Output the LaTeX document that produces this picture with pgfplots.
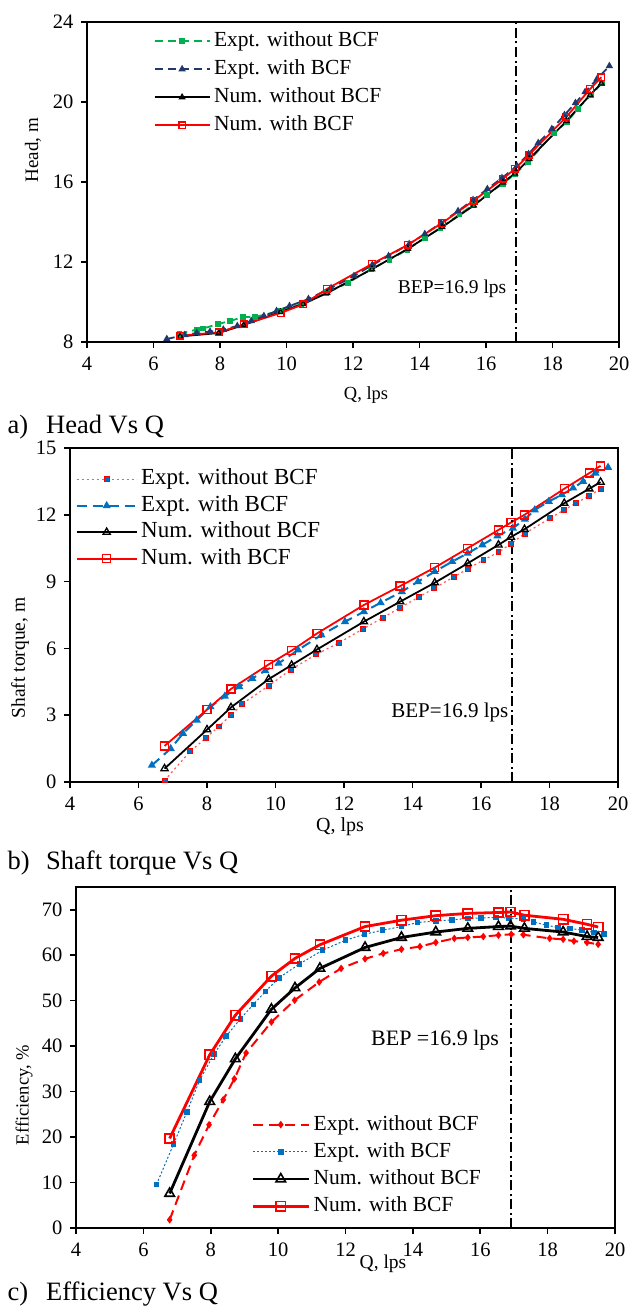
\documentclass[border=0pt]{standalone}
\usepackage{fontspec}
\setmainfont{Liberation Serif}
\usepackage{pgfplots}
\pgfplotsset{compat=1.18}

\definecolor{xgreen}{RGB}{0,176,80}
\definecolor{xnavy}{RGB}{32,56,110}
\definecolor{xblue}{RGB}{0,112,192}
\definecolor{xred}{RGB}{255,0,0}
\definecolor{xpink}{RGB}{255,90,90}

\newcommand\fs[1]{\fontsize{#1}{#1}\selectfont}

\pgfplotsset{
  base/.style={
    scale only axis,
    anchor=south west,
    xmin=4, xmax=20, xtick={4,6,...,20},
    axis line style={line width=2.6pt},
    tick align=outside,
    major tick length=6pt,
    tick style={line width=1.6pt, black},
    tick pos=left,
    ticklabel style={font=\fs{20.5}},
    xticklabel shift=5pt,
    yticklabel shift=4pt,
    /pgf/number format/assume math mode=true,
    legend cell align=left,
    legend style={draw=none, fill=none, inner sep=0pt, column sep=2pt,
      nodes={inner sep=1.5pt, text height=15pt, text depth=4pt}},
  },
  leglen/.style={legend image code/.code={
      \draw[mark repeat=2,mark phase=2,##1] plot coordinates {(0pt,0pt) (#1/2,0pt) (#1,0pt)};}},
  bep/.style={black, line width=2pt, dash pattern=on 10pt off 3.5pt on 2pt off 3.5pt, forget plot},
}

\begin{document}
\begin{tikzpicture}[x=1pt,y=1pt]
\useasboundingbox (0,0) rectangle (630,-1306);

% ---------------- Panel a ----------------
\begin{axis}[base, at={(87pt,-342pt)}, width=532pt, height=320pt,
  axis line style={line width=2.2pt},
  ymin=8, ymax=24, ytick={8,12,...,24},
  leglen=55pt,
  legend style={font=\fs{21.5}, row sep=6pt, at={(0.125,0.975)}, anchor=north west}]
\addplot[xgreen, line width=1.8pt, dash pattern=on 8pt off 5pt,
  mark=square*, mark size=2pt, mark options={solid}] coordinates {
(6.78,8.42) (7.30,8.62) (7.50,8.68) (7.95,8.90) (8.30,9.05) (8.70,9.25) (9.05,9.25)
(9.80,9.55) (10.45,9.90) (11.20,10.45) (11.85,10.96) (12.55,11.65) (13.10,12.12)
(13.64,12.62) (14.17,13.22) (14.63,13.70) (15.20,14.38) (15.61,14.85) (16.03,15.37)
(16.51,15.92) (16.87,16.40) (17.27,17.00) (18.05,18.47) (18.43,19.00) (18.76,19.66)
(19.16,20.35) (19.49,20.95)};
\addlegendentry{Expt. without BCF}
\addplot[xnavy, line width=1.8pt, dash pattern=on 8pt off 5pt,
  mark=triangle*, mark size=2.6pt, mark options={solid}] coordinates {
(6.40,8.15) (6.94,8.35) (7.30,8.45) (7.70,8.52) (8.10,8.62) (8.52,8.80) (8.94,9.05)
(9.32,9.30) (9.70,9.55) (10.09,9.80) (10.66,10.15) (11.34,10.70) (12.03,11.30)
(12.58,11.85) (13.07,12.30) (13.69,12.90) (14.16,13.40) (14.65,13.95) (15.16,14.55)
(15.61,15.10) (16.04,15.65) (16.48,16.20) (16.93,16.80) (17.28,17.40) (17.57,17.95)
(17.98,18.65) (18.36,19.35) (18.69,19.95) (18.98,20.50) (19.34,21.15) (19.71,21.80)};
\addlegendentry{Expt. with BCF}
\addplot[black, line width=1.8pt, mark=triangle, mark size=3pt,
  mark options={fill=white, line width=1.2pt}] coordinates {
(6.80,8.28) (7.96,8.45) (8.71,8.85) (9.82,9.50) (10.50,9.90) (11.22,10.45)
(12.57,11.64) (13.65,12.66) (14.68,13.75) (15.63,14.82) (16.51,15.98) (16.87,16.42)
(17.30,17.15) (18.42,19.05) (19.13,20.35) (19.47,20.93)};
\addlegendentry{Num. without BCF}
\addplot[xred, line width=1.8pt, mark=square, mark size=3.3pt,
  mark options={line width=1.4pt}] coordinates {
(6.80,8.32) (7.96,8.48) (8.71,8.88) (9.82,9.45) (10.50,9.88) (11.22,10.66)
(12.57,11.90) (13.65,12.86) (14.68,13.95) (15.63,15.07) (16.51,16.16) (16.87,16.66)
(17.30,17.37) (18.42,19.26) (19.13,20.65) (19.47,21.24)};
\addlegendentry{Num. with BCF}
\addplot[bep] coordinates {(16.9,8) (16.9,24)};
\node[font=\fs{19.5}] at (axis cs:14.98,10.65) {BEP=16.9 lps};
\end{axis}
\node[rotate=90, font=\fs{19}] at (33,-150) {Head, m};
\node[font=\fs{18.5}] at (366,-395) {Q, lps};
\node[font=\fs{26.5}, anchor=base west, inner sep=0pt] at (7.5,-433) {a)};
\node[font=\fs{26.5}, anchor=base west, inner sep=0pt] at (46,-433) {Head Vs Q};

% ---------------- Panel b ----------------
\begin{axis}[base, at={(70pt,-782pt)}, width=548pt, height=334pt,
  ymin=0, ymax=15, ytick={0,3,...,15},
  leglen=60pt,
  legend style={font=\fs{23}, row sep=4.5pt, at={(0.01,0.94)}, anchor=north west}]
\addplot[xpink, line width=1.2pt, dash pattern=on 2pt off 3pt,
  mark=square*, mark size=2.4pt, mark options={solid, fill=xblue, draw=xred, line width=0.8pt}] coordinates {
(6.76,0.07) (7.51,1.38) (7.97,1.98) (8.35,2.50) (8.70,3.00) (9.03,3.51) (9.80,4.32)
(10.45,5.05) (11.19,5.73) (11.85,6.25) (12.55,6.87) (13.13,7.38) (13.64,7.83)
(14.18,8.30) (14.63,8.70) (15.22,9.22) (15.61,9.57) (16.07,9.97) (16.51,10.32)
(16.87,10.70) (17.27,11.15) (18.02,11.85) (18.43,12.22) (18.77,12.52) (19.16,12.85)
(19.49,13.17)};
\addlegendentry{Expt. without BCF}
\addplot[xblue, line width=2pt, dash pattern=on 10pt off 6pt,
  mark=triangle*, mark size=2.8pt, mark options={solid}] coordinates {
(6.39,0.75) (6.94,1.50) (7.30,2.18) (7.70,2.78) (8.10,3.38) (8.52,3.85) (8.94,4.28)
(9.32,4.65) (9.70,5.00) (10.09,5.33) (10.66,5.93) (11.34,6.60) (12.03,7.20)
(12.58,7.65) (13.07,8.05) (13.69,8.55) (14.16,9.00) (14.65,9.45) (15.16,9.90)
(15.61,10.27) (16.04,10.65) (16.48,11.05) (16.93,11.40) (17.28,11.80) (17.57,12.22)
(17.98,12.60) (18.36,12.90) (18.69,13.20) (18.98,13.50) (19.34,13.87) (19.71,14.13)};
\addlegendentry{Expt. with BCF}
\addplot[black, line width=1.8pt, mark=triangle, mark size=4.2pt,
  mark options={fill=white, line width=1.3pt}] coordinates {
(6.76,0.60) (8.00,2.35) (8.70,3.35) (9.80,4.62) (10.47,5.25) (11.21,5.95)
(12.58,7.20) (13.64,8.10) (14.65,8.95) (15.61,9.82) (16.51,10.65) (16.87,11.00)
(17.27,11.35) (18.43,12.52) (19.16,13.17) (19.49,13.47)};
\addlegendentry{Num. without BCF}
\addplot[xred, line width=1.8pt, mark=square, mark size=4pt,
  mark options={line width=1.4pt}] coordinates {
(6.76,1.62) (8.00,3.25) (8.70,4.18) (9.80,5.28) (10.47,5.90) (11.21,6.67)
(12.58,7.95) (13.64,8.80) (14.65,9.63) (15.61,10.50) (16.51,11.32) (16.87,11.65)
(17.27,12.00) (18.43,13.17) (19.16,13.87) (19.49,14.20)};
\addlegendentry{Num. with BCF}
\addplot[bep] coordinates {(16.9,0) (16.9,15)};
\node[font=\fs{21}] at (axis cs:15.09,3.14) {BEP=16.9 lps};
\end{axis}
\node[rotate=90, font=\fs{19.5}] at (20,-658) {Shaft torque, m};
\node[font=\fs{20}] at (340,-827) {Q, lps};
\node[font=\fs{26.5}, anchor=base west, inner sep=0pt] at (7.5,-869) {b)};
\node[font=\fs{26.5}, anchor=base west, inner sep=0pt] at (46,-869) {Shaft torque Vs Q};

% ---------------- Panel c ----------------
\begin{axis}[base, at={(76pt,-1228pt)}, width=539pt, height=341pt,
  ymin=0, ymax=75, ytick={0,10,...,70},
  leglen=56pt,
  legend style={font=\fs{21.5}, row sep=5.2pt, at={(0.325,0.336)}, anchor=north west}]
\addplot[xred, line width=2pt, dash pattern=on 10pt off 6pt,
  mark=diamond*, mark size=2.2pt, mark options={solid}] coordinates {
(6.78,1.8) (7.51,16.0) (7.95,22.7) (8.37,28.2) (8.70,32.8) (9.05,38.5) (9.80,45.3)
(10.49,50.1) (11.22,54.1) (11.87,57.1) (12.58,59.2) (13.12,60.4) (13.66,61.3)
(14.21,61.9) (14.68,62.8) (15.23,63.7) (15.63,63.9) (16.09,64.1) (16.54,64.4)
(16.92,64.6) (17.28,64.5) (18.06,63.7) (18.46,63.5) (18.78,63.1) (19.17,62.8)
(19.50,62.4)};
\addlegendentry{Expt. without BCF}
\addplot[xblue, line width=1pt, dash pattern=on 2pt off 2pt,
  mark=square*, mark size=2.3pt, mark options={solid}] coordinates {
(6.39,9.6) (6.90,18.5) (7.29,25.5) (7.67,32.5) (8.10,38.3) (8.46,42.2) (8.88,46.0)
(9.27,49.2) (9.62,52.0) (10.02,55.0) (10.64,58.1) (11.32,61.1) (12.00,63.3)
(12.56,64.6) (13.10,65.5) (13.66,66.3) (14.14,67.2) (14.68,67.5) (15.17,67.8)
(15.64,68.1) (16.03,68.2) (16.47,68.3) (16.86,68.2) (17.28,67.9) (17.58,67.3)
(17.97,66.6) (18.30,66.1) (18.66,65.9) (19.02,65.5) (19.38,65.0) (19.68,64.6)};
\addlegendentry{Expt. with BCF}
\addplot[black, line width=2.8pt, mark=triangle, mark size=5.5pt,
  mark options={fill=white, line width=1.6pt}] coordinates {
(6.78,7.6) (7.97,27.8) (8.73,37.2) (9.80,48.1) (10.50,52.8) (11.24,57.1)
(12.58,61.7) (13.66,63.9) (14.68,65.1) (15.63,65.9) (16.54,66.3) (16.90,66.4)
(17.31,65.9) (18.46,65.1) (19.17,64.1) (19.50,63.9)};
\addlegendentry{Num. without BCF}
\addplot[xred, line width=2.8pt, mark=square, mark size=4.6pt,
  mark options={line width=1.6pt, fill=white}] coordinates {
(6.78,19.7) (7.97,38.1) (8.73,46.8) (9.80,55.4) (10.50,59.3) (11.24,62.3)
(12.58,66.3) (13.66,67.7) (14.68,68.7) (15.63,69.2) (16.54,69.4) (16.90,69.5)
(17.31,68.8) (18.46,67.9) (19.17,66.8) (19.50,66.2)};
\addlegendentry{Num. with BCF}
\addplot[bep] coordinates {(16.9,0) (16.9,75)};
\node[font=\fs{22}] at (axis cs:14.66,41.35) {BEP =16.9 lps};
\end{axis}
\node[rotate=90, font=\fs{18.5}] at (24,-1095) {Efficiency, \%};
\node[font=\fs{19.5}] at (383,-1264) {Q, lps};
\node[font=\fs{26.5}, anchor=base west, inner sep=0pt] at (7.5,-1300) {c)};
\node[font=\fs{26.5}, anchor=base west, inner sep=0pt] at (46,-1300) {Efficiency Vs Q};
\end{tikzpicture}
\end{document}
